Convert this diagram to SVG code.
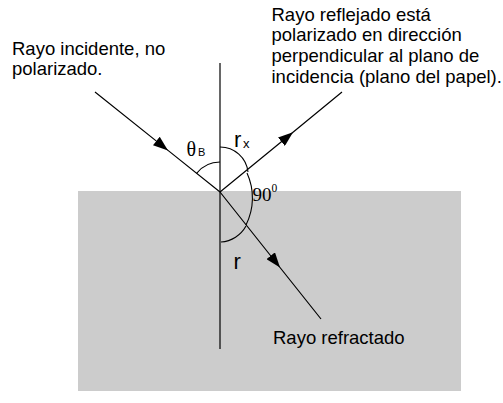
<svg xmlns="http://www.w3.org/2000/svg" width="503" height="403" viewBox="0 0 503 403">
<style>
.ln{fill:none;stroke:#000;stroke-width:1.2}
.arc{fill:none;stroke:#000;stroke-width:1.1}
.t{font-family:"Liberation Sans",Arial,sans-serif;font-size:18.5px;fill:#000}
.s{font-family:"Liberation Serif","Times New Roman",serif;fill:#000}
</style>
<defs>
<marker id="ah" markerUnits="userSpaceOnUse" markerWidth="15" markerHeight="11" refX="15" refY="5.5" orient="auto" viewBox="0 0 15 11">
<path d="M0,0 L15,5.5 L0,11 z" fill="#000"/>
</marker>
</defs>
<rect id="medium" x="78" y="191" width="383" height="200" fill="#cccccc"/>
<g id="connectors">
<line id="normal" class="ln" x1="220" y1="63" x2="220" y2="349"/>
<path id="incident" class="ln" d="M95,92 L168,150.4 L220,192" marker-mid="url(#ah)"/>
<path id="reflected" class="ln" d="M220,192 L293,132.2 L342,92" marker-mid="url(#ah)"/>
<path id="refracted" class="ln" d="M220,192 L280,267.5 L321,319" marker-mid="url(#ah)"/>
<path id="arc-thetaB" class="arc" d="M196.6,173.3 A30,30 0 0 1 220,162"/>
<path id="arc-rx" class="arc" d="M220,147 A28,28 0 0 1 248,172"/>
<path id="arc-90" class="arc" d="M247,173 A60,60 0 0 1 246,225"/>
<path id="arc-r" class="arc" d="M246,226 A31,31 0 0 1 221,242"/>
</g>
<g id="label-incident">
<text class="t" x="12" y="55">Rayo incidente, no</text>
<text class="t" x="12" y="75">polarizado.</text>
</g>
<g id="label-reflected">
<text class="t" x="271.5" y="20.7">Rayo reflejado está</text>
<text class="t" x="271.5" y="41.3">polarizado en dirección</text>
<text class="t" x="271.5" y="61.9">perpendicular al plano de</text>
<text class="t" x="271.5" y="82.5">incidencia (plano del papel).</text>
</g>
<g id="label-refracted">
<text class="t" x="273" y="344">Rayo refractado</text>
</g>
<g id="label-thetaB">
<text class="s" x="186.5" y="156" font-size="20">θ</text>
<text class="t" x="198" y="156" style="font-size:11px">B</text>
</g>
<g id="label-rx">
<text class="t" x="234" y="146.5" style="font-size:22px">r</text>
<text class="t" x="243" y="147.5" style="font-size:13px">x</text>
</g>
<g id="label-90">
<text class="s" x="252.5" y="200.5" font-size="19">90</text>
<text class="s" x="271.5" y="192" font-size="11.5">0</text>
</g>
<g id="label-r">
<text class="t" x="233.5" y="268.5" style="font-size:22px">r</text>
</g>
</svg>
